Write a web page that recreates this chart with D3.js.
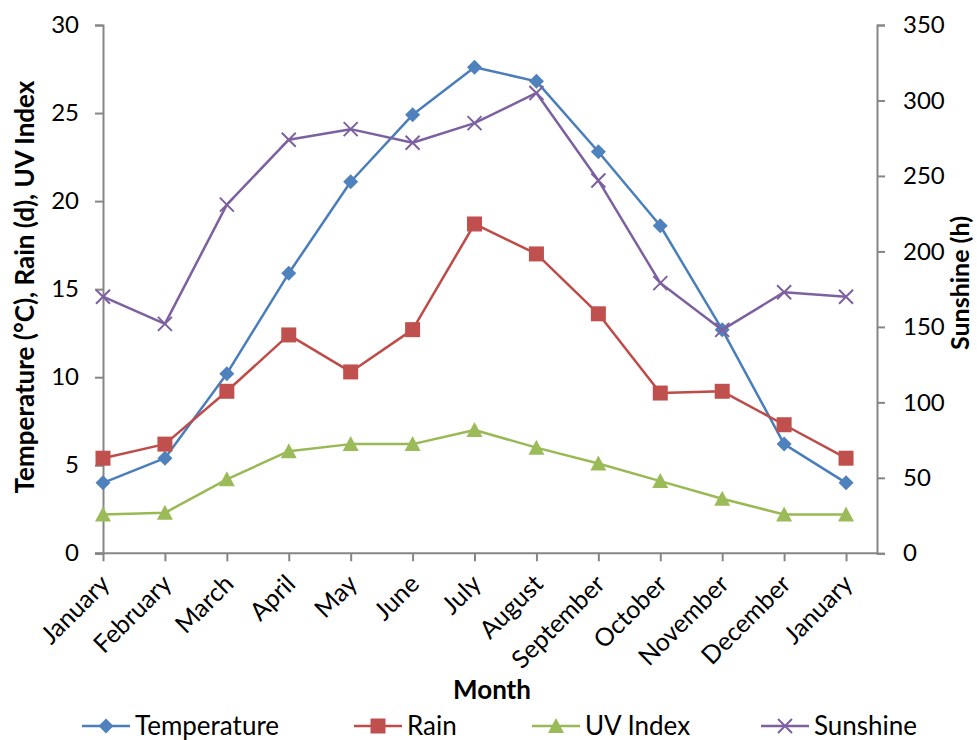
<!DOCTYPE html>
<html><head><meta charset="utf-8">
<script src="https://cdn.jsdelivr.net/npm/d3@7"></script>
<style>body{margin:0;background:#fff}svg{display:block}text{font-family:Lato,"Noto Sans",sans-serif;fill:#000}</style>
</head><body>
<script>
const months = ["January","February","March","April","May","June","July","August","September","October","November","December","January"];
const temperature = [4.0,5.4,10.2,15.9,21.1,24.9,27.6,26.8,22.8,18.6,12.7,6.2,4.0];
const rain = [5.4,6.2,9.2,12.4,10.3,12.7,18.7,17.0,13.6,9.1,9.2,7.3,5.4];
const uvIndex = [2.2,2.3,4.2,5.8,6.2,6.2,7.0,6.0,5.1,4.1,3.1,2.2,2.2];
const sunshine = [170,152,231,274,281,272,285,305,247,179,148,173,170];
const leftTicks = [0,5,10,15,20,25,30];
const rightTicks = [0,50,100,150,200,250,300,350];

const W=977,H=740;
const svg=d3.select("body").append("svg").attr("width",W).attr("height",H);
const L=103,R=877,T=25,B=553.3;
const x=d3.scaleLinear().domain([0,12.5]).range([L,R]);
const yL=d3.scaleLinear().domain([0,30]).range([B,T]);
const yR=d3.scaleLinear().domain([0,350]).range([B,T]);
const axisCol="#868686";

// axes
const gL=svg.append("g").attr("transform",`translate(${L},0)`).call(d3.axisLeft(yL).tickValues(leftTicks).tickSize(8).tickPadding(16));
const gR=svg.append("g").attr("transform",`translate(${R},0)`).call(d3.axisRight(yR).tickValues(rightTicks).tickSize(8).tickPadding(18));
const gX=svg.append("g").attr("transform",`translate(0,${B})`).call(d3.axisBottom(x).tickValues(d3.range(months.length)).tickSize(8).tickFormat(""));
svg.append("line").attr("x1",L-8).attr("x2",R).attr("y1",B).attr("y2",B).attr("stroke",axisCol).attr("stroke-width",2);
[gL,gR,gX].forEach(g=>{
  g.select(".domain").attr("stroke",axisCol).attr("stroke-width",2);
  g.selectAll(".tick line").attr("stroke",axisCol).attr("stroke-width",2);
  g.selectAll(".tick text").style("font-size","24px").attr("fill","#000");
});
gX.select(".domain").remove();

// month labels
svg.append("g").selectAll("text").data(months).join("text")
  .attr("transform",(d,i)=>`translate(${x(i)+2},${B+26}) rotate(-45)`)
  .attr("text-anchor","end").attr("dy","0.35em").style("font-size","25px").text(d=>d);

// axis titles
svg.append("text").attr("transform",`translate(34,287) rotate(-90)`).attr("text-anchor","middle")
  .style("font-size","26px").style("font-weight","bold").text("Temperature (°C), Rain (d), UV Index");
svg.append("text").attr("transform",`translate(969,283) rotate(-90)`).attr("text-anchor","middle")
  .style("font-size","25px").style("font-weight","bold").text("Sunshine (h)");
svg.append("text").attr("x",492).attr("y",699).attr("text-anchor","middle")
  .style("font-size","26px").style("font-weight","bold").text("Month");

// series
const series=[
 {name:"Temperature",data:temperature,y:yL,color:"#4A7EBB",fill:"#4F81BD",shape:"diamond"},
 {name:"Rain",data:rain,y:yL,color:"#BE4B48",fill:"#C0504D",shape:"square"},
 {name:"UV Index",data:uvIndex,y:yL,color:"#98B954",fill:"#9BBB59",shape:"triangle"},
 {name:"Sunshine",data:sunshine,y:yR,color:"#7D60A0",fill:"#8064A2",shape:"x"}
];
function marker(g,shape,color,fill){
  if(shape==="diamond") g.append("path").attr("d","M0,-7.5L7.5,0L0,7.5L-7.5,0Z").attr("fill",fill);
  else if(shape==="square") g.append("rect").attr("x",-7.5).attr("y",-7.5).attr("width",15).attr("height",15).attr("fill",fill);
  else if(shape==="triangle") g.append("path").attr("d","M0,-8L8,7L-8,7Z").attr("fill",fill);
  else g.append("path").attr("d","M-7,-7L7,7M-7,7L7,-7").attr("stroke",color).attr("stroke-width",2).attr("fill","none");
}
series.forEach(s=>{
  const line=d3.line().x((d,i)=>x(i)).y(d=>s.y(d));
  svg.append("path").datum(s.data).attr("d",line).attr("fill","none").attr("stroke",s.color).attr("stroke-width",2.5).attr("stroke-linejoin","round");
  s.data.forEach((d,i)=>{
    const g=svg.append("g").attr("transform",`translate(${x(i)},${s.y(d)})`);
    marker(g,s.shape,s.color,s.fill);
  });
});

// legend
const legX=[82,354,532,761];
series.forEach((s,i)=>{
  const g=svg.append("g").attr("transform",`translate(${legX[i]},726)`);
  g.append("line").attr("x1",0).attr("x2",48).attr("stroke",s.color).attr("stroke-width",2.5);
  const m=g.append("g").attr("transform","translate(24,0)");
  marker(m,s.shape,s.color,s.fill);
  g.append("text").attr("x",53).attr("y",0).attr("dy","0.35em").style("font-size","26px").text(s.name);
});
</script>
</body></html>
